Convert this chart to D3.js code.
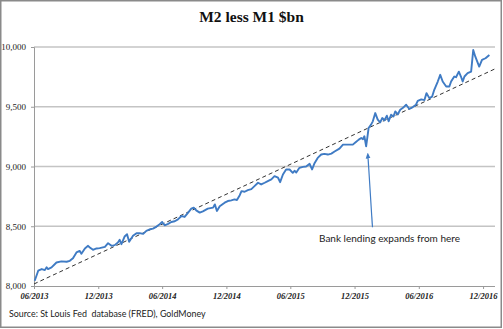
<!DOCTYPE html>
<html><head><meta charset="utf-8">
<script src="https://cdn.jsdelivr.net/npm/d3@7"></script>
<style>body{margin:0;background:#fff}svg{display:block}</style>
</head><body>
<svg id="c" width="503" height="329"></svg>
<script>
const title = "M2 less M1 $bn";
const sourceText = "Source: St Louis Fed  database (FRED), GoldMoney";
const annotationText = "Bank lending expands from here";
const yTicks = [8000, 8500, 9000, 9500, 10000];
const xTickDates = ["2013-06-01","2013-12-01","2014-06-01","2014-12-01","2015-06-01","2015-12-01","2016-06-01","2016-12-01"];
const xDomain = ["2013-06-01","2017-01-04"];
const dates = ["2013-06-03","2013-06-13","2013-06-23","2013-07-02","2013-07-07","2013-07-11","2013-07-21","2013-08-04","2013-08-18","2013-09-02",
"2013-09-11","2013-09-20","2013-09-30","2013-10-09","2013-10-14","2013-10-24","2013-11-02","2013-11-07","2013-11-16","2013-11-26",
"2013-12-05","2013-12-20","2013-12-29","2014-01-08","2014-01-17","2014-01-26","2014-01-31","2014-02-05","2014-02-14","2014-02-21",
"2014-02-27","2014-03-10","2014-03-20","2014-03-29","2014-04-08","2014-04-17","2014-04-27","2014-05-06","2014-05-16","2014-05-25",
"2014-06-01","2014-06-08","2014-06-18","2014-06-27","2014-07-07","2014-07-16","2014-07-26","2014-08-04","2014-08-14","2014-08-23",
"2014-08-30","2014-09-06","2014-09-16","2014-09-25","2014-10-09","2014-10-24","2014-10-29","2014-11-04","2014-11-12","2014-11-26",
"2014-12-05","2014-12-15","2014-12-24","2014-12-31","2015-01-08","2015-01-13","2015-01-22","2015-01-31","2015-02-10","2015-02-19",
"2015-03-01","2015-03-10","2015-03-20","2015-03-29","2015-04-08","2015-04-17","2015-04-27","2015-05-03","2015-05-11","2015-05-20",
"2015-05-30","2015-06-08","2015-06-13","2015-06-18","2015-06-27","2015-07-07","2015-07-16","2015-07-26","2015-08-02","2015-08-09",
"2015-08-18","2015-08-28","2015-09-06","2015-09-16","2015-09-26","2015-10-05","2015-10-19","2015-10-29","2015-11-12","2015-11-26",
"2015-12-04","2015-12-13","2015-12-20","2015-12-25","2015-12-29","2016-01-03","2016-01-10","2016-01-17","2016-01-22","2016-01-29",
"2016-02-05","2016-02-12","2016-02-18","2016-02-24","2016-03-02","2016-03-07","2016-03-14","2016-03-21","2016-03-26","2016-04-02",
"2016-04-09","2016-04-16","2016-04-26","2016-05-05","2016-05-15","2016-05-24","2016-05-29","2016-06-08","2016-06-17","2016-06-23",
"2016-07-01","2016-07-09","2016-07-15","2016-07-25","2016-08-01","2016-08-08","2016-08-18","2016-08-27","2016-09-01","2016-09-10",
"2016-09-15","2016-09-23","2016-09-29","2016-10-04","2016-10-09","2016-10-18","2016-10-28","2016-11-03","2016-11-09","2016-11-20",
"2016-11-28","2016-12-08","2016-12-19"];
const values = [8044,8128,8142,8133,8156,8142,8156,8197,8206,8203,
8211,8233,8281,8294,8270,8314,8336,8322,8303,8314,
8317,8328,8358,8336,8342,8364,8386,8350,8414,8433,
8370,8420,8442,8442,8436,8461,8475,8480,8497,8517,
8536,8508,8520,8536,8542,8558,8586,8578,8614,8647,
8656,8633,8614,8625,8647,8656,8683,8628,8667,8697,
8711,8717,8725,8720,8760,8794,8789,8803,8811,8836,
8864,8850,8864,8878,8892,8919,8906,8869,8933,8975,
8975,8947,8964,8950,8989,8997,9000,9022,8975,9028,
9072,9100,9106,9100,9108,9125,9150,9183,9183,9183,
9203,9225,9239,9228,9253,9169,9322,9350,9378,9447,
9392,9369,9406,9386,9425,9378,9433,9419,9461,9436,
9475,9489,9517,9481,9497,9517,9550,9562,9556,9614,
9572,9585,9642,9711,9767,9711,9669,9669,9711,9753,
9747,9794,9753,9711,9753,9781,9794,9975,9919,9836,
9892,9906,9933];
const trendDates = ["2013-06-01","2017-01-04"];
const trendValues = [8017, 9817];
const arrowDates = ["2016-01-21","2016-01-08"];
const arrowValues = [8492, 9092];

const parse = d3.timeParse("%Y-%m-%d");
const svg = d3.select("#c");
const W = 503, H = 329;
const mLeft = 34, mRight = 495, mTop = 47, mBottom = 286;

svg.append("rect").attr("x",0.75).attr("y",0.75).attr("width",W-2.5).attr("height",H-2.5)
  .attr("fill","#fff").attr("stroke","#8a8a8a").attr("stroke-width",1.5);

const x = d3.scaleTime().domain(xDomain.map(parse)).range([mLeft, mRight]);
const y = d3.scaleLinear().domain([8000, 10000]).range([mBottom, mTop]);

// gridlines
svg.append("g").selectAll("line").data(yTicks.filter(v => v > 8000)).join("line")
  .attr("x1", mLeft).attr("x2", mRight)
  .attr("y1", d => y(d)).attr("y2", d => y(d))
  .attr("stroke", "#c4c4c4").attr("stroke-width", 1.3);

// y axis
const yAxis = d3.axisLeft(y).tickValues(yTicks).tickSize(3).tickPadding(5)
  .tickFormat(d3.format(","));
const gy = svg.append("g").attr("transform", `translate(${mLeft},0)`).call(yAxis);
gy.select(".domain").attr("stroke", "#9a9a9a");
gy.selectAll(".tick line").attr("stroke", "#9a9a9a");
gy.selectAll("text").attr("font-family", "'Liberation Serif', 'Times New Roman', serif")
  .attr("font-size", 9).attr("fill", "#222");

// x axis
const xAxis = d3.axisBottom(x).tickValues(xTickDates.map(parse)).tickSize(3).tickPadding(4)
  .tickFormat(d3.timeFormat("%m/%Y"));
const gx = svg.append("g").attr("transform", `translate(0,${mBottom})`).call(xAxis);
gx.select(".domain").attr("stroke", "#9a9a9a").attr("d", `M${mLeft},0.5H${mRight}`);
gx.selectAll(".tick line").attr("stroke", "#9a9a9a");
gx.selectAll("text").attr("font-family", "'Liberation Serif', 'Times New Roman', serif")
  .attr("font-size", 8.5).attr("font-weight", "bold").attr("font-style", "italic").attr("fill", "#222");

// trend line
const line = d3.line().x(d => x(d[0])).y(d => y(d[1]));
svg.append("path")
  .datum(trendDates.map((d, i) => [parse(d), trendValues[i]]))
  .attr("d", line).attr("fill", "none").attr("stroke", "#333")
  .attr("stroke-width", 1).attr("stroke-dasharray", "4,3");

// data line
svg.append("path")
  .datum(dates.map((d, i) => [parse(d), values[i]]))
  .attr("d", line).attr("fill", "none").attr("stroke", "#3f7bc4")
  .attr("stroke-width", 1.9).attr("stroke-linejoin", "round");

// arrow
svg.append("defs").append("marker").attr("id", "ah")
  .attr("viewBox", "0 0 10 10").attr("refX", 5).attr("refY", 5)
  .attr("markerWidth", 5).attr("markerHeight", 5).attr("orient", "auto")
  .append("path").attr("d", "M0,1L10,5L0,9Z").attr("fill", "#3f7bc4");
svg.append("line")
  .attr("x1", x(parse(arrowDates[0]))).attr("y1", y(arrowValues[0]))
  .attr("x2", x(parse(arrowDates[1]))).attr("y2", y(arrowValues[1]))
  .attr("stroke", "#3f7bc4").attr("stroke-width", 1.2).attr("marker-end", "url(#ah)");

// annotation text
svg.append("text").attr("x", 389.5).attr("y", 242).attr("text-anchor", "middle")
  .attr("font-family", "Lato, 'Open Sans', sans-serif").attr("font-size", 10).attr("fill", "#222")
  .text(annotationText);

// title
svg.append("text").attr("x", 251.5).attr("y", 22).attr("text-anchor", "middle")
  .attr("font-family", "'Liberation Serif', 'Times New Roman', serif").attr("font-weight", "bold")
  .attr("font-size", 15.5).attr("fill", "#111").text(title);

// source
svg.append("text").attr("x", 9).attr("y", 317).style("white-space", "pre")
  .attr("font-family", "Lato, 'Open Sans', sans-serif").attr("font-size", 8.9).attr("fill", "#222")
  .text(sourceText);
</script>
</body></html>
